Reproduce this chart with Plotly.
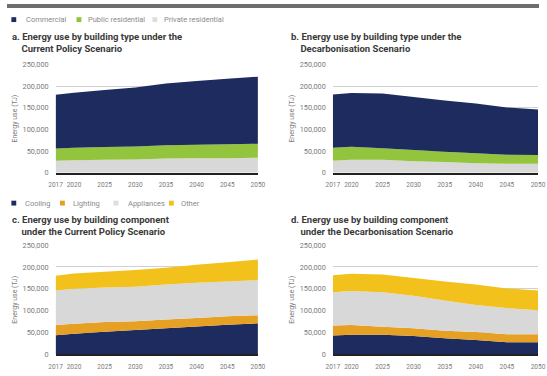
import plotly.graph_objects as go

W, H = 547, 376

years = [2017, 2020, 2025, 2030, 2035, 2040, 2045, 2050]
tick_years = [2017, 2020, 2025, 2030, 2035, 2040, 2045, 2050]
y_ticks = [0, 50000, 100000, 150000, 200000, 250000]

# Panel a: building type, Current Policy Scenario (TJ)
cps_private = [28000, 29000, 30000, 31000, 33000, 34000, 34000, 35000]
cps_public = [28000, 29000, 29500, 30000, 31000, 31000, 32000, 32000]
cps_commercial = [124000, 127000, 131500, 136000, 142000, 147000, 151000, 155000]

# Panel b: building type, Decarbonisation Scenario (TJ)
dec_private = [28000, 30000, 30000, 27000, 25000, 22000, 21000, 21000]
dec_public = [30000, 30000, 27000, 26000, 24000, 23000, 21000, 20000]
dec_commercial = [123000, 124500, 126000, 122000, 118000, 115000, 109000, 105000]

# Panel c: building component, Current Policy Scenario (TJ)
cps_cooling = [44000, 47000, 52000, 56000, 60000, 64000, 68000, 71000]
cps_lighting = [23000, 23000, 22000, 20000, 20000, 19000, 19000, 18500]
cps_appliances = [79000, 80000, 79000, 79000, 80000, 81000, 80000, 80500]
cps_other = [34000, 35000, 36000, 38000, 38000, 41000, 44000, 47000]

# Panel d: building component, Decarbonisation Scenario (TJ)
dec_cooling = [43000, 45000, 45000, 42000, 37000, 33000, 28000, 28000]
dec_lighting = [23000, 22000, 18000, 18000, 17000, 18000, 18000, 18000]
dec_appliances = [76000, 78000, 79000, 74000, 69000, 62000, 60000, 55000]
dec_other = [39000, 39500, 41000, 41000, 44000, 47000, 45000, 45000]

type_names = ["Commercial", "Public residential", "Private residential"]
component_names = ["Cooling", "Lighting", "Appliances", "Other"]

titles = {
    "a": "a. Energy use by building type under the<br>    Current Policy Scenario",
    "b": "b. Energy use by building type under the<br>    Decarbonisation Scenario",
    "c": "c. Energy use by building component<br>    under the Current Policy Scenario",
    "d": "d. Energy use by building component<br>    under the Decarbonisation Scenario",
}
y_title = "Energy use (TJ)"

NAVY = "#1d2b5e"
GREEN = "#93c43d"
LGRAY = "#d8d8d8"
ORANGE = "#e6a023"
YELLOW = "#f2c11b"

FONT = "Roboto, Liberation Sans, Arial, sans-serif"
TXT = "#3a3a3a"
TICK = "#7a7a7a"

fig = go.Figure()


def px_x(p):
    return p / W


def px_y(p):
    return 1 - p / H


panels = {
    # name: (x0, x1, ytop, ybottom) in pixels
    "a": (50, 258, 62, 173, "x", "y"),
    "b": (335, 546, 62, 173, "x2", "y2"),
    "c": (50, 258, 247, 359, "x3", "y3"),
    "d": (335, 546, 247, 359, "x4", "y4"),
}


def add_area(name, values, color, xa, ya, group):
    fig.add_trace(go.Scatter(
        x=years, y=values, name=name, mode="none", stackgroup=group,
        fillcolor=color, showlegend=False, xaxis=xa, yaxis=ya,
        hoverinfo="x+y+name",
    ))


# a
add_area(type_names[2], cps_private, LGRAY, "x", "y", "a")
add_area(type_names[1], cps_public, GREEN, "x", "y", "a")
add_area(type_names[0], cps_commercial, NAVY, "x", "y", "a")
# b
add_area(type_names[2], dec_private, LGRAY, "x2", "y2", "b")
add_area(type_names[1], dec_public, GREEN, "x2", "y2", "b")
add_area(type_names[0], dec_commercial, NAVY, "x2", "y2", "b")
# c
add_area(component_names[0], cps_cooling, NAVY, "x3", "y3", "c")
add_area(component_names[1], cps_lighting, ORANGE, "x3", "y3", "c")
add_area(component_names[2], cps_appliances, LGRAY, "x3", "y3", "c")
add_area(component_names[3], cps_other, YELLOW, "x3", "y3", "c")
# d
add_area(component_names[0], dec_cooling, NAVY, "x4", "y4", "d")
add_area(component_names[1], dec_lighting, ORANGE, "x4", "y4", "d")
add_area(component_names[2], dec_appliances, LGRAY, "x4", "y4", "d")
add_area(component_names[3], dec_other, YELLOW, "x4", "y4", "d")

shapes = [dict(type="rect", xref="paper", yref="paper", x0=0, x1=1,
               y0=px_y(4), y1=1, fillcolor="#6e6e6e", line=dict(width=0))]
annotations = []

# legend keys (square + label)
legend_rows = [
    (16, [(type_names[0], NAVY, 7, 18), (type_names[1], GREEN, 74, 82),
          (type_names[2], "#dedede", 152, 160)]),
    (204, [(component_names[0], NAVY, 7, 17), (component_names[1], ORANGE, 57, 67),
           (component_names[2], "#dedede", 112, 123), (component_names[3], YELLOW, 169, 178)]),
]
for ly, items in legend_rows:
    for nm, col, sx, tx in items:
        shapes.append(dict(type="rect", xref="paper", yref="paper",
                           x0=px_x(sx - 2.5), x1=px_x(sx + 2.5),
                           y0=px_y(ly + 2.5), y1=px_y(ly - 2.5),
                           fillcolor=col, line=dict(width=0)))
        annotations.append(dict(text=nm, xref="paper", yref="paper",
                                x=px_x(tx - 1), y=px_y(ly), xanchor="left", yanchor="middle",
                                showarrow=False, font=dict(size=7.5, color="#8a8a8a", family=FONT)))

layout = dict(
    width=W, height=H, margin=dict(l=0, r=0, t=0, b=0),
    paper_bgcolor="white", plot_bgcolor="white",
    font=dict(family=FONT, color=TICK, size=7),
    showlegend=False,
    shapes=shapes,
    annotations=annotations,
)

for key, (x0, x1, yt, yb, xa, ya) in panels.items():
    xname = "xaxis" + xa[1:]
    yname = "yaxis" + ya[1:]
    layout[xname] = dict(
        domain=[px_x(x0), px_x(x1)], anchor=ya, range=[2017, 2050],
        tickvals=tick_years, ticktext=[str(t) for t in tick_years], tickangle=0,
        showgrid=False, zeroline=False, showline=True, linecolor="#222222", linewidth=1.5,
        ticks="", ticklabelstandoff=5,
        tickfont=dict(size=6.5, color=TICK, family=FONT), fixedrange=True,
    )
    layout[yname] = dict(
        domain=[px_y(yb), px_y(yt)], anchor=xa, range=[0, 250000],
        tickvals=y_ticks, tickformat=",",
        showgrid=True, gridcolor="#d0d0d0", gridwidth=1, zeroline=False,
        showline=False, ticks="", ticklabelstandoff=6,
        tickfont=dict(size=7.3, color=TICK, family=FONT), fixedrange=True,
        title=dict(text=y_title, font=dict(size=7, color=TICK, family=FONT), standoff=4),
    )
    tx = 3 if key in ("a", "c") else 290
    ty = 39 if key in ("a", "b") else 227
    annotations.append(dict(
        text="<b>" + titles[key] + "</b>", xref="paper", yref="paper",
        x=px_x(tx), y=px_y(ty), xanchor="left", yanchor="middle", align="left",
        showarrow=False, font=dict(size=9.5, color=TXT, family=FONT),
    ))

fig.update_layout(**layout)
fig.write_html("out.html")
